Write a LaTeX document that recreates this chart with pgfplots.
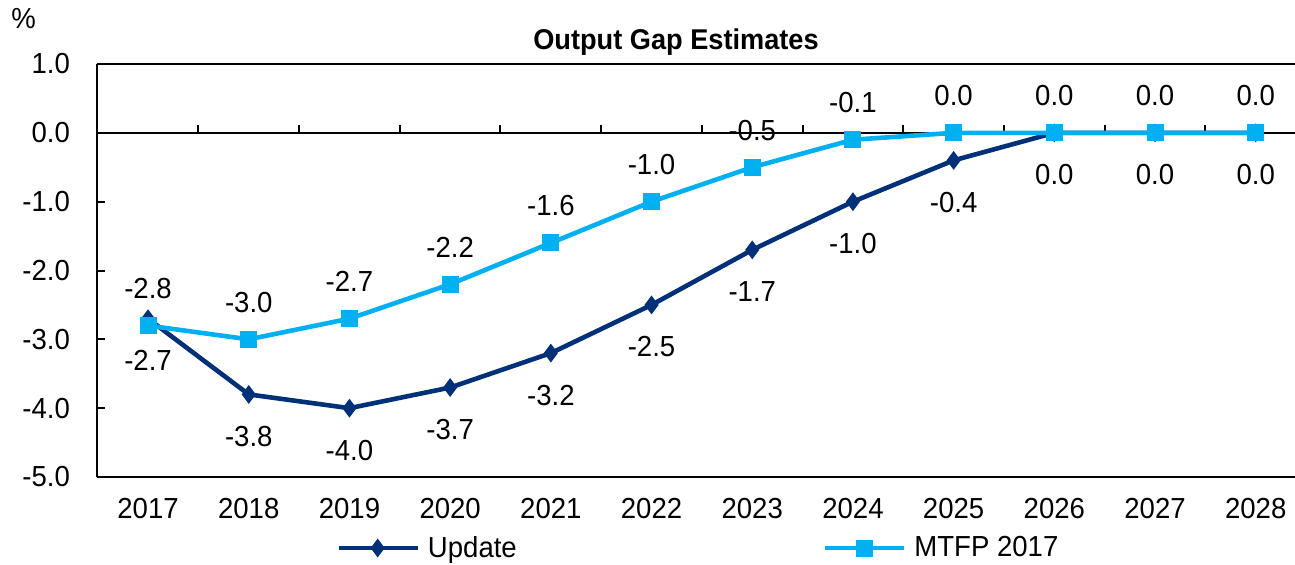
\documentclass[border=0pt]{standalone}
\usepackage{pgfplots}
\pgfplotsset{compat=1.18}
\usepackage{fontspec}
\setmainfont{Liberation Sans}[FakeStretch=0.95]

\definecolor{updblue}{RGB}{0,48,120}
\definecolor{mtfpblue}{RGB}{0,176,240}

% Output gap estimates (per cent of potential)
\pgfplotstableread{
idx update mtfp
0  -2.7 -2.8
1  -3.8 -3.0
2  -4.0 -2.7
3  -3.7 -2.2
4  -3.2 -1.6
5  -2.5 -1.0
6  -1.7 -0.5
7  -1.0 -0.1
8  -0.4  0.0
9   0.0  0.0
10  0.0  0.0
11  0.0  0.0
}\gapdata

\begin{document}
\begin{tikzpicture}
\begin{axis}[
  at={(0pt,0pt)}, anchor=south west,
  scale only axis,
  width=599pt, height=206.5pt,
  xmin=-0.507, xmax=11.39,
  ymin=-5, ymax=1,
  axis x line*=box, axis y line*=left,
  axis line style={line width=1pt, black},
  xtick={0,...,11},
  xticklabels={2017,2018,2019,2020,2021,2022,2023,2024,2025,2026,2027,2028},
  x tick style={draw=none},
  xticklabel style={font=\fontsize{14.5}{16}\selectfont, yshift=-7pt},
  ytick={-5,-4,...,1},
  y tick style={line width=1pt, black},
  tick align=inside,
  major tick length=4pt,
  yticklabel style={font=\fontsize{14.5}{16}\selectfont, xshift=-10pt},
  /pgf/number format/.cd, fixed, fixed zerofill, precision=1, assume math mode=true,
  /pgfplots/.cd,
  clip=false,
  legend columns=2,
  legend style={at={(0.1995,-0.172)}, anchor=west, draw=none, fill=none,
    inner sep=0pt, font=\fontsize{14.5}{16}\selectfont,
    nodes={inner sep=0pt},
    /tikz/every odd column/.append style={column sep=4pt},
    /tikz/every even column/.append style={column sep=153pt}},
  legend image code/.code={
    \draw[mark repeat=2, mark phase=2, #1]
      plot coordinates {(0pt,0pt) (19.5pt,0pt) (39.5pt,0pt)};},
  nodes near coords,
  point meta=explicit,
]
% zero line with category separators
\draw[line width=1pt, black] (axis cs:-0.507,0) -- (axis cs:11.39,0);
\pgfplotsinvokeforeach{0,...,10}{
  \draw[line width=1pt, black] (axis cs:#1.5,0) -- ++(0pt,4pt);
}
\addplot[updblue, line width=2.3pt, mark=diamond*, mark size=2.8pt,
  nodes near coords style={font=\fontsize{14.5}{16}\selectfont, black,
    anchor=center, yshift=-21pt}]
  table[x=idx, y=update, meta=update] {\gapdata};
\addlegendentry{Update}
\addplot[mtfpblue, line width=2.3pt, mark=square*, mark size=3.1pt,
  nodes near coords style={font=\fontsize{14.5}{16}\selectfont, black,
    anchor=center, yshift=18.5pt}]
  table[x=idx, y=mtfp, meta=mtfp] {\gapdata};
\addlegendentry{MTFP 2017}
\end{axis}
\node[font=\bfseries\fontsize{14.3}{16}\selectfont] at (289.5pt,217.5pt) {Output Gap Estimates};
\node[font=\fontsize{14.5}{16}\selectfont] at (-36.75pt,229pt) {\%};
\pgfresetboundingbox
\useasboundingbox (-48.5pt,-43.5pt) rectangle (599pt,238.5pt);
\end{tikzpicture}
\end{document}
